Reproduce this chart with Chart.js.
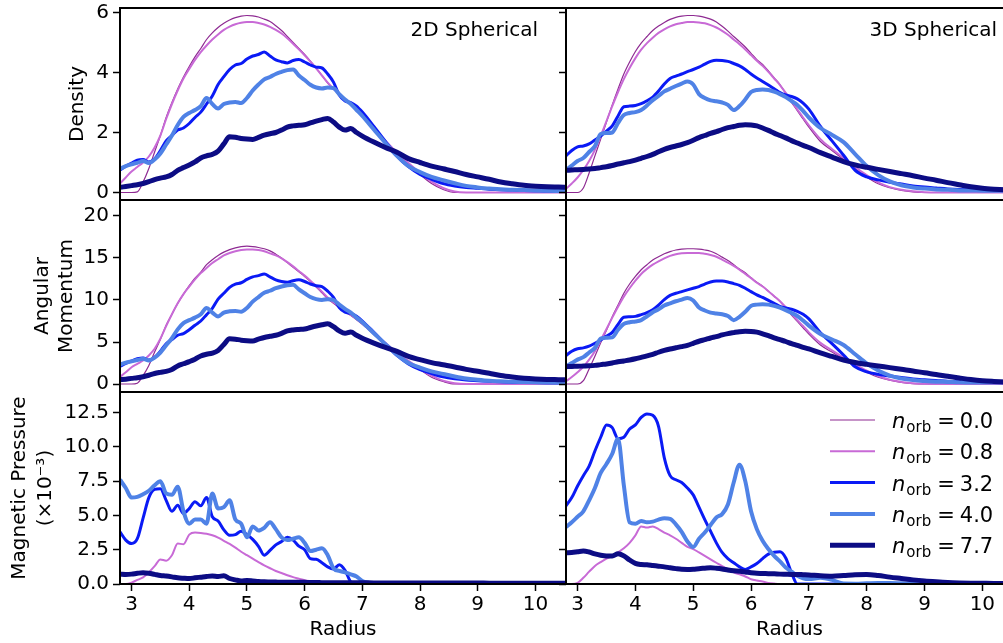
<!DOCTYPE html>
<html>
<head>
<meta charset="utf-8">
<script src="https://cdn.jsdelivr.net/npm/chart.js@4.4.0/dist/chart.umd.min.js"></script>
<style>
  html, body { margin: 0; padding: 0; background: #fff; overflow: hidden; }
  #wrap { position: relative; width: 1003px; height: 643px; overflow: hidden; background: #fff; }
  #wrap canvas { position: absolute; top: 0; }
</style>
</head>
<body>
<div id="wrap"></div>
<script>
// radius grid shared by every curve
const radius = [2.8,2.9,3.0,3.1,3.2,3.3,3.4,3.5,3.6,3.7,
  3.8,3.9,4.0,4.1,4.2,4.3,4.4,4.5,4.6,4.7,
  4.8,4.9,5.0,5.1,5.2,5.3,5.4,5.5,5.6,5.7,
  5.8,5.9,6.0,6.1,6.2,6.3,6.4,6.5,6.6,6.7,
  6.8,6.9,7.0,7.2,7.4,7.6,7.8,8.0,8.2,8.4,
  8.6,8.8,9.0,9.2,9.4,9.6,9.8,10.0,10.2,10.4,10.6];

const orbitLabels = ['0.0', '0.8', '3.2', '4.0', '7.7'];
const radiusTicks = [3, 4, 5, 6, 7, 8, 9, 10];
const densityTicks = [0, 2, 4, 6];
const momentumTicks = [0, 5, 10, 15, 20];
const pressureTicks = [0, 2.5, 5, 7.5, 10, 12.5];

// Density, 2D spherical
const dens2D_00 = [0,0,0,0.02,0.35,0.8,1.35,1.9,2.5,3.0,
  3.45,3.85,4.2,4.52,4.8,5.1,5.32,5.5,5.64,5.75,
  5.83,5.88,5.9,5.89,5.85,5.78,5.7,5.56,5.4,5.2,
  5.0,4.8,4.6,4.38,4.15,3.9,3.65,3.45,3.28,3.1,
  2.93,2.75,2.55,2.12,1.7,1.3,0.95,0.6,0.3,0.1,
  0,0,0,0,0,0,0,0,0,0,0];
const dens2D_08 = [0.3,0.5,0.7,0.85,1.0,1.2,1.5,1.9,2.45,2.95,
  3.4,3.8,4.12,4.42,4.68,4.9,5.1,5.27,5.42,5.53,
  5.61,5.66,5.68,5.68,5.65,5.6,5.52,5.42,5.3,5.14,
  4.96,4.77,4.57,4.36,4.14,3.9,3.66,3.46,3.28,3.1,
  2.93,2.75,2.56,2.14,1.73,1.33,0.98,0.65,0.36,0.15,
  0.03,0,0,0,0,0,0,0,0,0,0];
const dens2D_32 = [0.75,0.88,0.98,1.08,1.1,1.02,1.12,1.4,1.72,1.9,
  2.08,2.15,2.3,2.5,2.68,2.95,3.22,3.6,3.86,4.1,
  4.25,4.3,4.45,4.55,4.6,4.68,4.55,4.42,4.36,4.32,
  4.4,4.43,4.35,4.25,4.18,4.15,3.95,3.68,3.25,3.05,
  3.0,2.88,2.68,2.2,1.7,1.22,0.86,0.6,0.44,0.3,
  0.22,0.17,0.14,0.11,0.09,0.08,0.07,0.06,0.05,0.05,0.05];
const dens2D_40 = [0.79,0.88,0.94,0.99,1.05,0.98,1.1,1.3,1.6,1.9,
  2.25,2.52,2.65,2.75,2.88,3.15,2.95,2.8,2.95,3.0,
  3.02,2.98,3.15,3.4,3.6,3.77,3.85,3.95,4.02,4.08,
  4.1,3.9,3.75,3.59,3.5,3.47,3.5,3.48,3.28,3.1,
  2.95,2.75,2.55,2.1,1.65,1.22,0.88,0.68,0.52,0.41,
  0.31,0.22,0.17,0.13,0.11,0.09,0.08,0.07,0.06,0.05,0.05];
const dens2D_77 = [0.17,0.2,0.23,0.26,0.3,0.36,0.43,0.48,0.52,0.6,
  0.74,0.83,0.92,1.02,1.15,1.22,1.27,1.38,1.62,1.86,
  1.84,1.8,1.78,1.77,1.84,1.91,1.96,2.0,2.08,2.18,
  2.22,2.24,2.26,2.32,2.38,2.43,2.47,2.35,2.18,2.08,
  2.13,2.0,1.88,1.68,1.5,1.34,1.13,1.0,0.88,0.79,
  0.7,0.6,0.52,0.44,0.35,0.29,0.24,0.21,0.19,0.18,0.17];

// Density, 3D spherical
const dens3D_00 = [0,0,0,0.15,0.65,1.22,1.78,2.35,2.92,3.45,
  3.95,4.35,4.7,4.98,5.2,5.4,5.55,5.67,5.77,5.84,
  5.88,5.9,5.9,5.88,5.84,5.78,5.68,5.54,5.38,5.2,
  5.03,4.85,4.64,4.43,4.27,4.05,3.82,3.6,3.3,3.0,
  2.73,2.45,2.18,1.7,1.4,1.1,0.8,0.52,0.29,0.16,
  0.07,0.02,0,0,0,0,0,0,0,0,0];
const dens3D_08 = [0.12,0.3,0.5,0.75,1.05,1.42,1.88,2.38,2.88,3.35,
  3.78,4.15,4.48,4.76,4.98,5.16,5.32,5.44,5.54,5.61,
  5.65,5.68,5.68,5.67,5.64,5.58,5.5,5.39,5.26,5.1,
  4.94,4.77,4.58,4.39,4.22,4.02,3.8,3.58,3.32,3.04,
  2.77,2.5,2.24,1.78,1.45,1.15,0.85,0.58,0.34,0.18,
  0.09,0.04,0.01,0,0,0,0,0,0,0,0];
const dens3D_32 = [1.22,1.4,1.52,1.55,1.62,1.75,1.88,2.05,2.22,2.55,
  2.86,2.88,2.9,2.96,3.06,3.18,3.38,3.62,3.8,3.88,
  3.95,4.03,4.1,4.18,4.28,4.37,4.41,4.4,4.37,4.3,
  4.22,4.1,3.95,3.82,3.7,3.58,3.46,3.33,3.25,3.2,
  3.12,2.98,2.78,2.2,1.72,1.24,0.74,0.52,0.42,0.34,
  0.28,0.22,0.18,0.15,0.12,0.1,0.09,0.08,0.07,0.07,0.07];
const dens3D_40 = [0.75,0.9,1.05,1.15,1.35,1.55,1.95,1.98,2.0,2.32,
  2.58,2.65,2.68,2.75,2.9,3.08,3.22,3.37,3.46,3.55,
  3.63,3.7,3.6,3.28,3.15,3.07,3.04,3.0,2.92,2.75,
  2.88,3.1,3.35,3.42,3.43,3.42,3.36,3.28,3.18,3.05,
  2.92,2.72,2.5,2.15,1.92,1.68,1.28,0.88,0.58,0.37,
  0.24,0.17,0.13,0.1,0.09,0.07,0.07,0.06,0.06,0.06,0.06];
const dens3D_77 = [0.74,0.75,0.76,0.77,0.78,0.8,0.83,0.86,0.9,0.95,
  0.99,1.03,1.08,1.14,1.2,1.27,1.36,1.44,1.5,1.55,
  1.6,1.66,1.74,1.83,1.9,1.97,2.03,2.1,2.16,2.2,
  2.24,2.26,2.25,2.22,2.15,2.07,1.98,1.9,1.82,1.73,
  1.65,1.57,1.5,1.33,1.18,1.03,0.92,0.84,0.77,0.7,
  0.63,0.56,0.48,0.41,0.33,0.26,0.19,0.14,0.11,0.09,0.08];

// Angular momentum, 2D spherical
const mom2D_00 = [0,0,0,0.1,1.0,2.2,3.8,5.3,7.0,8.3,
  9.6,10.7,11.7,12.6,13.3,14.2,14.8,15.3,15.7,16.0,
  16.2,16.35,16.4,16.35,16.25,16.1,15.85,15.45,15.0,14.45,
  13.9,13.35,12.8,12.2,11.55,10.85,10.15,9.6,9.1,8.6,
  8.15,7.65,7.1,5.9,4.7,3.6,2.6,1.7,0.8,0.3,
  0,0,0,0,0,0,0,0,0,0,0];
const mom2D_08 = [0.85,1.4,2.0,2.4,2.8,3.4,4.2,5.4,6.9,8.3,
  9.6,10.7,11.6,12.45,13.2,13.8,14.4,14.85,15.3,15.6,
  15.8,15.95,16.0,16.0,15.95,15.8,15.55,15.3,14.95,14.5,
  14.0,13.45,12.9,12.3,11.65,11.0,10.3,9.75,9.25,8.75,
  8.25,7.75,7.2,6.0,4.9,3.75,2.75,1.85,1.0,0.4,
  0.1,0,0,0,0,0,0,0,0,0,0];
const mom2D_32 = [2.1,2.45,2.75,3.0,3.1,2.85,3.15,3.9,4.8,5.3,
  5.8,6.0,6.45,7.0,7.5,8.25,9.0,10.1,10.8,11.5,
  11.9,12.05,12.45,12.75,12.9,13.1,12.75,12.4,12.2,12.1,
  12.3,12.4,12.2,11.9,11.7,11.6,11.05,10.3,9.1,8.55,
  8.4,8.05,7.5,6.15,4.75,3.4,2.4,1.7,1.25,0.85,
  0.62,0.48,0.4,0.32,0.26,0.22,0.2,0.18,0.16,0.15,0.14];
const mom2D_40 = [2.3,2.55,2.7,2.85,3.0,2.8,3.15,3.75,4.6,5.45,
  6.5,7.25,7.6,7.9,8.3,9.05,8.5,8.05,8.5,8.65,
  8.7,8.6,9.05,9.8,10.35,10.85,11.1,11.4,11.6,11.75,
  11.8,11.25,10.8,10.35,10.1,10.0,10.1,10.0,9.45,8.95,
  8.5,7.9,7.35,6.05,4.75,3.5,2.5,1.95,1.5,1.2,
  0.9,0.65,0.5,0.38,0.32,0.26,0.23,0.2,0.17,0.15,0.14];
const mom2D_77 = [0.5,0.58,0.67,0.75,0.87,1.04,1.25,1.39,1.51,1.74,
  2.15,2.41,2.67,2.96,3.34,3.54,3.68,4.0,4.7,5.39,
  5.34,5.22,5.16,5.13,5.34,5.54,5.68,5.8,6.03,6.32,
  6.44,6.5,6.55,6.73,6.9,7.05,7.16,6.82,6.32,6.03,
  6.18,5.8,5.45,4.87,4.35,3.89,3.28,2.9,2.55,2.29,
  2.03,1.74,1.51,1.28,1.02,0.84,0.7,0.61,0.55,0.52,0.49];

// Angular momentum, 3D spherical
const mom3D_00 = [0,0,0,0.4,1.8,3.3,4.9,6.4,8.0,9.4,
  10.8,11.9,12.8,13.6,14.2,14.75,15.15,15.5,15.75,15.95,
  16.05,16.1,16.1,16.05,15.95,15.8,15.5,15.1,14.7,14.2,
  13.7,13.25,12.65,12.1,11.65,11.05,10.45,9.85,9.0,8.2,
  7.45,6.7,5.95,4.65,3.8,3.0,2.2,1.4,0.8,0.45,
  0.2,0.05,0,0,0,0,0,0,0,0,0];
const mom3D_08 = [0.33,0.83,1.4,2.05,2.9,3.9,5.2,6.55,7.9,9.2,
  10.4,11.4,12.3,13.1,13.7,14.2,14.6,14.95,15.25,15.45,
  15.55,15.6,15.6,15.6,15.5,15.35,15.15,14.8,14.45,14.05,
  13.6,13.1,12.6,12.05,11.6,11.05,10.45,9.85,9.15,8.35,
  7.6,6.9,6.15,4.9,4.0,3.15,2.35,1.6,0.95,0.5,
  0.25,0.1,0.03,0,0,0,0,0,0,0,0];
const mom3D_32 = [3.4,3.9,4.2,4.3,4.5,4.85,5.25,5.7,6.15,7.1,
  7.95,8.0,8.05,8.25,8.5,8.85,9.4,10.05,10.55,10.8,
  11.0,11.2,11.4,11.6,11.9,12.15,12.25,12.25,12.15,11.95,
  11.75,11.4,11.0,10.6,10.3,9.95,9.6,9.25,9.05,8.9,
  8.65,8.3,7.75,6.1,4.8,3.45,2.05,1.45,1.15,0.95,
  0.78,0.6,0.5,0.42,0.33,0.28,0.25,0.22,0.2,0.19,0.19];
const mom3D_40 = [2.1,2.5,2.9,3.2,3.75,4.3,5.4,5.5,5.55,6.45,
  7.15,7.35,7.45,7.6,8.05,8.55,8.9,9.35,9.6,9.85,
  10.05,10.25,9.95,9.1,8.75,8.5,8.4,8.3,8.1,7.6,
  8.0,8.6,9.3,9.45,9.5,9.45,9.3,9.1,8.8,8.45,
  8.1,7.55,6.95,5.95,5.3,4.65,3.55,2.45,1.6,1.0,
  0.66,0.47,0.36,0.28,0.25,0.2,0.19,0.17,0.17,0.17,0.17];
const mom3D_77 = [2.06,2.09,2.11,2.14,2.17,2.22,2.31,2.39,2.5,2.64,
  2.75,2.86,3.0,3.17,3.34,3.53,3.78,4.0,4.17,4.31,
  4.45,4.61,4.84,5.09,5.28,5.48,5.64,5.84,6.0,6.12,
  6.23,6.28,6.26,6.17,5.98,5.75,5.5,5.28,5.06,4.81,
  4.59,4.36,4.17,3.7,3.28,2.86,2.56,2.34,2.14,1.95,
  1.75,1.56,1.33,1.14,0.92,0.72,0.53,0.39,0.31,0.25,0.22];

// Magnetic pressure (x1e-3), 2D spherical
const pres2D_00 = [0,0,0,0,0,0,0,0,0,0,
  0,0,0,0,0,0,0,0,0,0,
  0,0,0,0,0,0,0,0,0,0,
  0,0,0,0,0,0,0,0,0,0,
  0,0,0,0,0,0,0,0,0,0,
  0,0,0,0,0,0,0,0,0,0,0];
const pres2D_08 = [0,0,0.1,0.3,0.48,0.85,1.3,1.79,1.7,2.1,
  2.95,2.9,3.6,3.75,3.72,3.66,3.55,3.38,3.15,2.92,
  2.65,2.35,2.1,1.85,1.6,1.36,1.15,0.95,0.8,0.64,
  0.5,0.39,0.28,0.2,0.13,0.08,0.04,0.02,0,0,
  0,0,0,0,0,0,0,0,0,0,
  0,0,0,0,0,0,0,0,0,0,0];
const pres2D_32 = [3.8,3.2,2.95,3.3,4.8,6.3,6.9,6.95,6.1,5.3,
  5.75,5.15,5.5,6.0,5.7,6.3,4.9,4.6,3.95,3.55,
  3.6,3.85,3.6,3.25,2.75,2.1,2.45,2.85,3.1,3.4,
  3.2,2.76,2.5,1.85,1.8,1.55,1.25,1.1,1.4,1.0,
  0.15,0,0,0,0,0,0,0,0,0,
  0,0,0,0,0,0,0,0,0,0,0];
const pres2D_40 = [7.6,7.0,6.3,6.35,6.55,6.8,7.2,7.5,6.6,6.5,
  7.1,5.3,4.4,4.7,4.7,4.4,6.6,5.5,5.6,6.1,
  4.7,4.4,3.4,4.2,3.9,4.1,4.5,4.0,3.4,3.2,
  3.3,3.4,3.0,2.4,2.5,2.6,2.1,1.15,0.95,0.85,
  0.7,0.55,0.22,0.05,0.03,0.02,0.02,0.02,0.02,0.02,
  0.02,0.02,0.02,0.02,0.02,0.02,0.02,0.02,0.02,0.02,0.02];
const pres2D_77 = [0.72,0.7,0.72,0.78,0.82,0.78,0.7,0.62,0.58,0.52,
  0.45,0.42,0.4,0.45,0.5,0.55,0.58,0.55,0.6,0.4,
  0.3,0.22,0.25,0.22,0.18,0.16,0.15,0.14,0.13,0.13,
  0.12,0.12,0.12,0.11,0.11,0.1,0.1,0.1,0.09,0.09,
  0.09,0.09,0.09,0.08,0.08,0.08,0.08,0.07,0.07,0.07,
  0.07,0.07,0.07,0.06,0.06,0.06,0.06,0.06,0.05,0.05,0.05];

// Magnetic pressure (x1e-3), 3D spherical
const pres3D_00 = [0,0,0,0,0,0,0,0,0,0,
  0,0,0,0,0,0,0,0,0,0,
  0,0,0,0,0,0,0,0,0,0,
  0,0,0,0,0,0,0,0,0,0,
  0,0,0,0,0,0,0,0,0,0,
  0,0,0,0,0,0,0,0,0,0,0];
const pres3D_08 = [0,0,0.08,0.45,0.9,1.32,1.6,1.85,2.05,2.3,
  2.6,3.0,3.55,4.2,4.12,4.2,4.0,3.75,3.55,3.3,
  3.0,2.7,2.55,2.3,2.05,1.8,1.55,1.3,1.06,0.85,
  0.7,0.55,0.35,0.25,0.18,0.08,0.03,0,0,0,
  0,0,0,0,0,0,0,0,0,0,
  0,0,0,0,0,0,0,0,0,0,0];
const pres3D_32 = [5.7,6.3,7.15,7.9,8.6,9.7,10.7,11.6,11.4,10.6,
  10.7,11.3,11.6,12.15,12.4,12.3,11.5,9.2,7.9,7.6,
  7.4,7.0,6.5,5.6,4.7,3.85,3.0,2.3,1.85,1.55,
  1.25,1.06,1.25,1.5,1.85,2.18,2.32,2.35,1.9,0.82,
  0,0,0,0,0,0,0,0,0,0,
  0,0,0,0,0,0,0,0,0,0,0];
const pres3D_40 = [4.15,4.5,4.9,5.3,6.1,7.0,8.1,8.75,9.5,10.6,
  7.2,4.5,4.4,4.6,4.5,4.55,4.7,4.8,4.75,4.35,
  3.8,3.1,2.7,3.3,3.75,4.3,4.85,5.1,5.8,7.4,
  8.7,7.5,5.3,4.0,3.15,2.55,2.05,1.65,1.2,0.9,
  0.6,0.42,0.36,0.45,0.3,0.03,0.02,0.05,0.08,0.07,
  0.05,0.03,0.02,0.01,0.01,0.01,0.01,0.01,0.01,0.01,0.01];
const pres3D_77 = [2.28,2.3,2.35,2.4,2.33,2.2,2.1,2.05,2.05,2.2,
  2.05,1.75,1.5,1.42,1.4,1.35,1.3,1.25,1.18,1.12,
  1.07,1.06,1.08,1.12,1.15,1.18,1.15,1.1,1.02,0.96,
  0.93,0.88,0.82,0.78,0.77,0.75,0.74,0.72,0.71,0.7,
  0.7,0.68,0.66,0.6,0.57,0.62,0.68,0.7,0.62,0.5,
  0.4,0.3,0.22,0.16,0.11,0.08,0.06,0.05,0.04,0.04,0.04];

// line styles, one per n_orb
const lineColors = ['#8e2a92', '#c86ad6', '#0a1af5', '#4f82e6', '#0c0c84'];
const lineWidths = [1.2, 2, 3, 4, 5];

const FONT = '"DejaVu Sans", sans-serif';
Chart.defaults.font.family = FONT;
Chart.defaults.color = '#000';

const rows = [
  { title: 'Density', titlePad: 66, lineHeight: 1.2, ticks: densityTicks, digits: 0,
    min: -0.25, max: 6.15, top: 8, bottom: 200,
    series: [[dens2D_00, dens2D_08, dens2D_32, dens2D_40, dens2D_77],
             [dens3D_00, dens3D_08, dens3D_32, dens3D_40, dens3D_77]] },
  { title: ['Angular', 'Momentum'], titlePad: 31, lineHeight: 1.2, ticks: momentumTicks, digits: 0,
    min: -0.95, max: 21.9, top: 200, bottom: 392,
    series: [[mom2D_00, mom2D_08, mom2D_32, mom2D_40, mom2D_77],
             [mom3D_00, mom3D_08, mom3D_32, mom3D_40, mom3D_77]] },
  { title: ['Magnetic Pressure', '(\u00d710\u207b\u00b3)'], titlePad: 7, lineHeight: 1.3, ticks: pressureTicks, digits: 1,
    min: 0, max: 14, top: 392, bottom: 584,
    series: [[pres2D_00, pres2D_08, pres2D_32, pres2D_40, pres2D_77],
             [pres3D_00, pres3D_08, pres3D_32, pres3D_40, pres3D_77]] }
];
const panelNames = ['2D Spherical', '3D Spherical'];

// black box round each plot area
const framePlugin = {
  id: 'frame',
  afterDraw(chart) {
    const { ctx, chartArea: a } = chart;
    ctx.save();
    ctx.strokeStyle = '#000';
    ctx.lineWidth = 2;
    ctx.strokeRect(a.left, a.top, a.right - a.left, a.bottom - a.top);
    ctx.restore();
  }
};

// "2D Spherical" / "3D Spherical" in the top panels
const panelLabelPlugin = {
  id: 'panelLabel',
  afterDraw(chart, args, opts) {
    if (!opts.text) return;
    const { ctx, chartArea: a } = chart;
    ctx.save();
    ctx.font = '20px ' + FONT;
    ctx.fillStyle = '#000';
    ctx.textAlign = 'right';
    ctx.textBaseline = 'alphabetic';
    ctx.fillText(opts.text, a.right - opts.gap, a.top + 28);
    ctx.restore();
  }
};

// legend with the subscript n_orb
const orbLegendPlugin = {
  id: 'orbLegend',
  afterDraw(chart, args, opts) {
    if (!opts.show) return;
    const { ctx, chartArea: a } = chart;
    chart.data.datasets.forEach((ds, i) => {
      const y = a.top + 28 + i * 31.3;
      const x0 = a.left + 264;
      ctx.save();
      ctx.strokeStyle = ds.borderColor;
      ctx.lineWidth = ds.borderWidth;
      ctx.beginPath();
      ctx.moveTo(x0, y);
      ctx.lineTo(x0 + 45, y);
      ctx.stroke();
      ctx.fillStyle = '#000';
      ctx.textAlign = 'left';
      ctx.textBaseline = 'alphabetic';
      let x = x0 + 62;
      ctx.font = 'italic 21px ' + FONT;
      ctx.fillText('n', x, y + 8);
      x += ctx.measureText('n').width + 1;
      ctx.font = '15px ' + FONT;
      ctx.fillText('orb', x, y + 12);
      x += ctx.measureText('orb').width + 6;
      ctx.font = '21px ' + FONT;
      ctx.fillText('=', x, y + 8);
      x += ctx.measureText('=').width + 5;
      ctx.fillText(orbitLabels[i], x, y + 8);
      ctx.restore();
    });
  }
};

function makeConfig(row, r, col) {
  const isLeft = col === 0;
  const isBottom = r === rows.length - 1;
  const series = row.series[col];
  const tickFont = { family: FONT, size: 20 };
  return {
    type: 'line',
    data: {
      labels: radius,
      datasets: series.map((vals, i) => ({
        label: 'n_orb = ' + orbitLabels[i],
        data: vals,
        borderColor: lineColors[i],
        borderWidth: lineWidths[i],
        pointRadius: 0,
        fill: false,
        cubicInterpolationMode: 'monotone',
        order: series.length - 1 - i
      }))
    },
    options: {
      responsive: false,
      animation: false,
      events: [],
      layout: { padding: { left: 0, right: isLeft ? 4 : 3, top: row.top, bottom: isBottom ? 0 : 643 - row.bottom } },
      plugins: {
        legend: { display: false },
        tooltip: { enabled: false },
        panelLabel: { text: r === 0 ? panelNames[col] : '', gap: isLeft ? 28 : 16 },
        orbLegend: { show: isBottom && !isLeft }
      },
      scales: {
        x: {
          type: 'linear',
          min: 2.8,
          max: 10.53,
          display: isBottom,
          afterBuildTicks: s => { s.ticks = radiusTicks.map(v => ({ value: v })); },
          afterFit: s => {
            s.height = isBottom ? 59 : 0;
            s.paddingLeft = 0; s.paddingRight = 0; s.paddingTop = 0; s.paddingBottom = 0;
          },
          border: { display: false },
          grid: { drawOnChartArea: false, drawTicks: true, tickLength: 7, tickColor: '#000', tickWidth: 1.5 },
          ticks: { font: tickFont, color: '#000', padding: 2, maxRotation: 0, autoSkip: false, callback: v => String(v) },
          title: { display: true, text: 'Radius', color: '#000', font: { family: FONT, size: 20 }, padding: { top: 0, bottom: 1 } }
        },
        y: {
          min: row.min,
          max: row.max,
          afterBuildTicks: s => { s.ticks = row.ticks.map(v => ({ value: v })); },
          afterFit: s => {
            s.width = isLeft ? 120 : 8;
            s.paddingLeft = 0; s.paddingRight = 0; s.paddingTop = 0; s.paddingBottom = 0;
          },
          border: { display: false },
          grid: { drawOnChartArea: false, drawTicks: true, tickLength: 7, tickColor: '#000', tickWidth: 1.5 },
          ticks: { display: isLeft, font: tickFont, color: '#000', padding: 4, autoSkip: false,
                   callback: v => Number(v).toFixed(row.digits) },
          title: { display: isLeft, text: row.title, color: '#000',
                   font: { family: FONT, size: 20, lineHeight: row.lineHeight },
                   padding: { top: row.titlePad, bottom: 0 } }
        }
      }
    },
    plugins: [framePlugin, panelLabelPlugin, orbLegendPlugin]
  };
}

const wrap = document.getElementById('wrap');
rows.forEach((row, r) => {
  [0, 1].forEach(col => {
    const c = document.createElement('canvas');
    c.width = col === 0 ? 570 : 458;
    c.height = 643;
    c.style.left = (col === 0 ? 0 : 558) + 'px';
    wrap.appendChild(c);
    new Chart(c, makeConfig(row, r, col));
  });
});
</script>
</body>
</html>
